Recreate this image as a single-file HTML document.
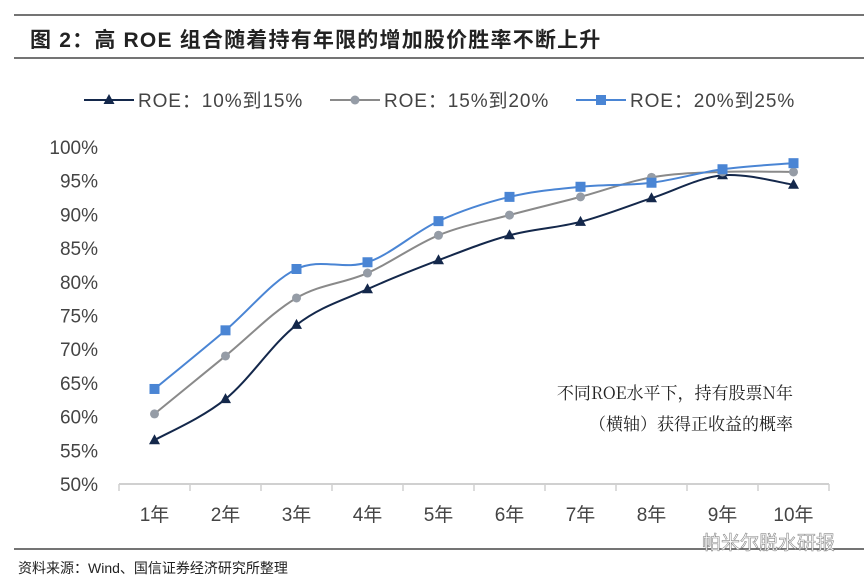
<!DOCTYPE html>
<html><head><meta charset="utf-8"><style>
body{margin:0;background:#fff;}
svg{display:block;font-family:"Liberation Sans","Noto Sans CJK SC",sans-serif;}
</style></head><body>
<svg id="c" width="864" height="581" viewBox="0 0 864 581">
<line x1="14" y1="15" x2="864" y2="15" stroke="#222" stroke-width="1.2"/>
<text x="30" y="47" font-size="21" font-weight="bold" letter-spacing="1.2" fill="#222">图 2：高 ROE 组合随着持有年限的增加股价胜率不断上升</text>
<line x1="14" y1="58" x2="864" y2="58" stroke="#222" stroke-width="1.2"/>
<g id="legend"></g>
<g id="grid"></g>
<g id="series"></g>
<text x="793" y="399" font-size="17" text-anchor="end" fill="#222" font-family="'Noto Serif CJK SC',serif">不同ROE水平下，持有股票N年</text>
<text x="793" y="430" font-size="17" text-anchor="end" fill="#222" font-family="'Noto Serif CJK SC',serif">（横轴）获得正收益的概率</text>
<line x1="14" y1="549" x2="864" y2="549" stroke="#222" stroke-width="1.2"/>
<text x="18" y="573" font-size="14" fill="#222">资料来源：Wind、国信证券经济研究所整理</text>
<text x="835" y="549" font-size="19" text-anchor="end" fill="#fff" stroke="#888" stroke-width="0.6">帕米尔脱水研报</text>
</svg>
<script>
const categories=["1年","2年","3年","4年","5年","6年","7年","8年","9年","10年"];
const seriesNames=["ROE：10%到15%","ROE：15%到20%","ROE：20%到25%"];
const s1=[56.5,62.6,73.6,78.9,83.2,86.9,88.9,92.4,95.8,94.4];
const s2=[60.4,69.0,77.6,81.3,86.9,89.9,92.6,95.5,96.3,96.3];
const s3=[64.1,72.8,81.9,82.9,89.0,92.6,94.1,94.7,96.7,97.6];
const yTicks=[50,55,60,65,70,75,80,85,90,95,100];
const NS="http://www.w3.org/2000/svg";
const x0=119,x1=829,yTop=147,yBot=484;
const step=(x1-x0)/categories.length;
const xs=i=>x0+step*(i+0.5);
const ys=v=>yBot-(v-50)/50*(yBot-yTop);
function mk(t,a,p){const e=document.createElementNS(NS,t);for(const k in a)e.setAttribute(k,a[k]);p.appendChild(e);return e;}
const grid=document.getElementById('grid');
const ax=mk('line',{x1:x0,y1:yBot,x2:x1,y2:yBot,stroke:'#d0d0d0','stroke-width':2},grid);


for(let i=0;i<=categories.length;i++){
 const t=mk('line',{x1:x0+step*i,y1:yBot,x2:x0+step*i,y2:yBot+7,stroke:'#d0d0d0','stroke-width':1.5},grid);
 
 
}
categories.forEach((c,i)=>{
 const t=mk('text',{x:xs(i),y:521,'font-size':19,'text-anchor':'middle',fill:'#444'},grid);t.textContent=c;
 
 
});
yTicks.forEach(v=>{
 const t=mk('text',{x:98,y:ys(v)+7,'font-size':19,'text-anchor':'end',fill:'#444'},grid);t.textContent=v+'%';
 
 
});
function path(vals){
 const p=vals.map((v,i)=>[xs(i),ys(v)]);let d='M'+p[0][0]+','+p[0][1];
 for(let i=0;i<p.length-1;i++){const a=p[Math.max(i-1,0)],b=p[i],c=p[i+1],e=p[Math.min(i+2,p.length-1)];
  const k=0.17;d+=' C'+(b[0]+(c[0]-a[0])*k)+','+(b[1]+(c[1]-a[1])*k)+' '+(c[0]-(e[0]-b[0])*k)+','+(c[1]-(e[1]-b[1])*k)+' '+c[0]+','+c[1];}
 return d;}
const colors=['#14284b','#959ca6','#4a85d4'];
const lineCols=['#14284b','#8a8a8a','#4a85d4'];
const sg=document.getElementById('series');
function marker(kind,x,y,col,g){
 if(kind===0)return mk('path',{d:`M${x},${y-6}L${x+5.5},${y+4}L${x-5.5},${y+4}Z`,fill:col},g);
 if(kind===1)return mk('circle',{cx:x,cy:y,r:4.5,fill:col},g);
 return mk('rect',{x:x-5,y:y-5,width:10,height:10,fill:col},g);}
[s1,s2,s3].forEach((vals,k)=>{
 const g=mk('g',{},sg);
 
 
 const l=mk('path',{d:path(vals),fill:'none',stroke:lineCols[k],'stroke-width':2},g);
 
 
 vals.forEach((v,i)=>{const m=marker(k,xs(i),ys(v),colors[k],g);
  
  });
});
const lg=document.getElementById('legend');
const lx=[84,330,576];
seriesNames.forEach((n,k)=>{
 const g=mk('g',{},lg);
 
 
 mk('line',{x1:lx[k],y1:100,x2:lx[k]+50,y2:100,stroke:lineCols[k],'stroke-width':2},g);
 marker(k,lx[k]+25,100,colors[k],g);
 const t=mk('text',{x:lx[k]+54,y:107,'font-size':19,'letter-spacing':'0.9',fill:'#444'},g);t.textContent=n;
});
</script>
</body></html>
